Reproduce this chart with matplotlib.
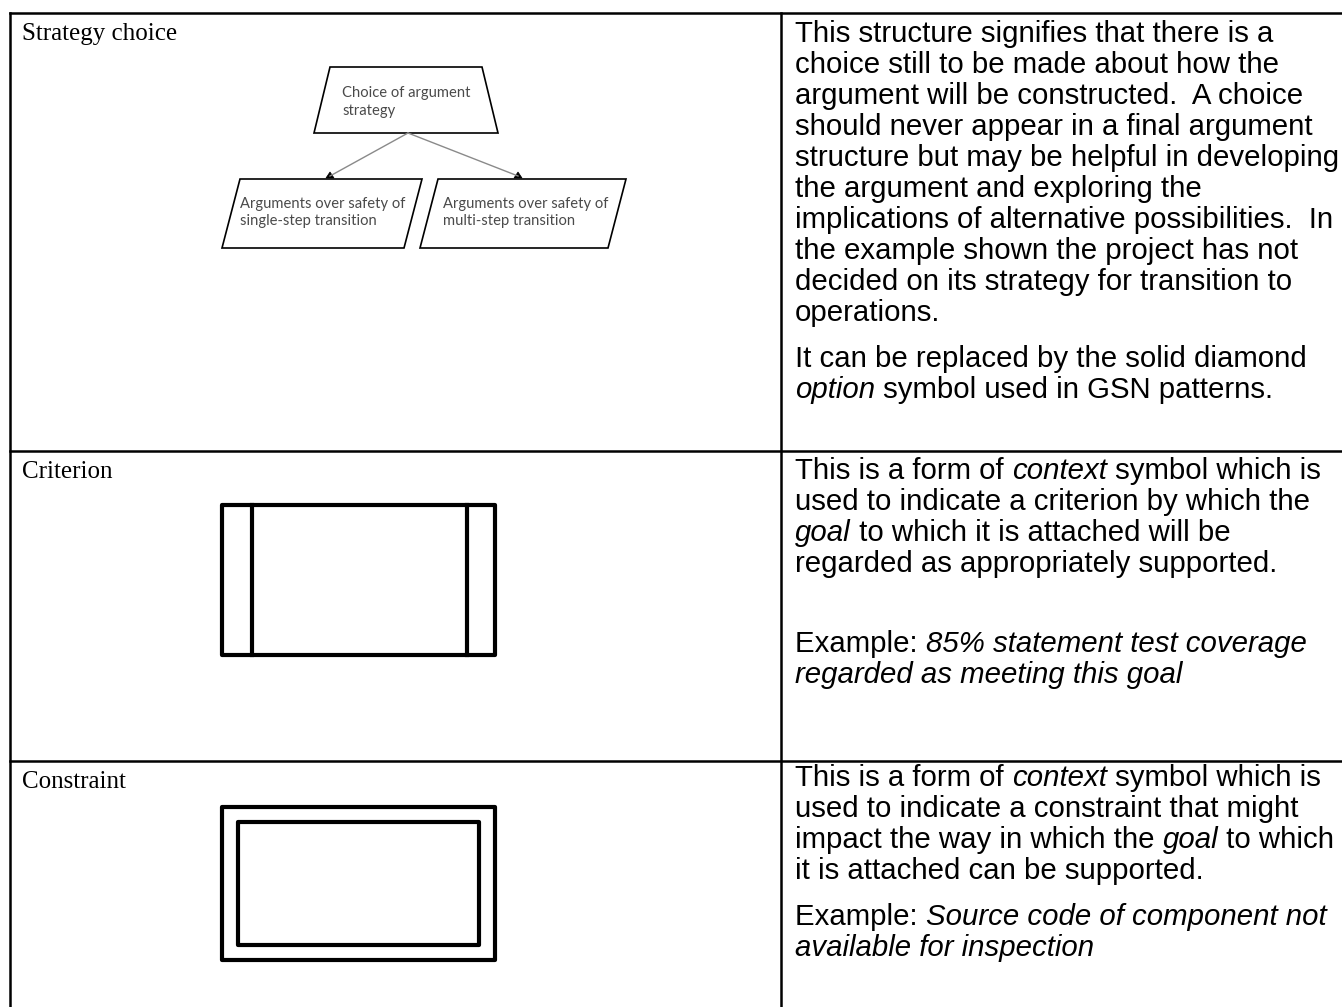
import matplotlib
matplotlib.use("Agg")
import matplotlib.pyplot as plt
from matplotlib.patches import Polygon, Rectangle

W, H = 1342, 1007

# table layout (pixels)
col_x = [10, 781]
row_y = [13, 451, 761]

row_labels = ["Strategy choice", "Criterion", "Constraint"]

# description text: each row is a list of paragraphs, each paragraph a list
# of lines, each line a list of (text, italic) runs
desc_rows = [
    [
        [
            [("This structure signifies that there is a", 0)],
            [("choice still to be made about how the", 0)],
            [("argument will be constructed.  A choice", 0)],
            [("should never appear in a final argument", 0)],
            [("structure but may be helpful in developing", 0)],
            [("the argument and exploring the", 0)],
            [("implications of alternative possibilities.  In", 0)],
            [("the example shown the project has not", 0)],
            [("decided on its strategy for transition to", 0)],
            [("operations.", 0)],
        ],
        [
            [("It can be replaced by the solid diamond", 0)],
            [("option", 1), (" symbol used in GSN patterns.", 0)],
        ],
    ],
    [
        [
            [("This is a form of ", 0), ("context", 1), (" symbol which is", 0)],
            [("used to indicate a criterion by which the", 0)],
            [("goal", 1), (" to which it is attached will be", 0)],
            [("regarded as appropriately supported.", 0)],
        ],
        [
            [("Example: ", 0), ("85% statement test coverage", 1)],
            [("regarded as meeting this goal", 1)],
        ],
    ],
    [
        [
            [("This is a form of ", 0), ("context", 1), (" symbol which is", 0)],
            [("used to indicate a constraint that might", 0)],
            [("impact the way in which the ", 0), ("goal", 1), (" to which", 0)],
            [("it is attached can be supported.", 0)],
        ],
        [
            [("Example: ", 0), ("Source code of component not", 1)],
            [("available for inspection", 1)],
        ],
    ],
]
desc_base = [42, 479, 786]   # first baseline in each row
para_gap = [15, 49, 15]      # extra space between paragraphs
line_step = 31

strategy_top = ["Choice of argument", "strategy"]
strategy_kids = [["Arguments over safety of", "single-step transition"],
                 ["Arguments over safety of", "multi-step transition"]]

fig = plt.figure(figsize=(W / 100, H / 100), dpi=100)
ax = fig.add_axes([0, 0, 1, 1])
ax.set_xlim(0, W)
ax.set_ylim(H, 0)
ax.axis("off")
renderer = fig.canvas.get_renderer()

# table grid
lw = 1.8
for y in row_y:
    ax.plot([col_x[0], W], [y, y], color="black", lw=lw)
for x in col_x:
    ax.plot([x, x], [row_y[0], H], color="black", lw=lw)

# left column labels
for y, lab in zip(row_y, row_labels):
    ax.text(22, y + 27, lab, family="Liberation Serif", fontsize=18,
            va="baseline", ha="left")

FS = 21.2
bar = ax.text(0, 0, "|", family="Liberation Sans", fontsize=FS)
bar_w = bar.get_window_extent(renderer).width
bar.remove()


def run_width(s, italic):
    t = ax.text(0, 0, s + "|", family="Liberation Sans", fontsize=FS,
                style="italic" if italic else "normal")
    w = t.get_window_extent(renderer).width - bar_w
    t.remove()
    return w


for r, paras in enumerate(desc_rows):
    yy = desc_base[r]
    for p, lines in enumerate(paras):
        if p > 0:
            yy += para_gap[r]
        for line in lines:
            x = 795
            for s, it in line:
                ax.text(x, yy, s, family="Liberation Sans", fontsize=FS,
                        style="italic" if it else "normal",
                        va="baseline", ha="left")
                x += run_width(s, it)
            yy += line_step

# ---- strategy choice diagram ----
grey = "#4a4a4a"
dfs = 10.6
ax.add_patch(Polygon([(330, 67), (482, 67), (498, 133), (314, 133)], closed=True,
                     fill=False, ec="black", lw=1.2))
for k, s in enumerate(strategy_top):
    ax.text(342, 97 + 18 * k, s, family="Lato", fontsize=dfs, color=grey,
            va="baseline", ha="left")

kid_boxes = [(240, 422, 222, 404), (438, 626, 420, 608)]
kid_text_x = [240, 443]
kid_tip = [330, 518]
for (tl, tr, bl, br), tx, label, tip in zip(kid_boxes, kid_text_x, strategy_kids, kid_tip):
    ax.add_patch(Polygon([(tl, 179), (tr, 179), (br, 248), (bl, 248)], closed=True,
                         fill=False, ec="black", lw=1.2))
    for k, s in enumerate(label):
        ax.text(tx, 208 + 17 * k, s, family="Lato", fontsize=dfs, color=grey,
                va="baseline", ha="left")
    ax.plot([408, tip], [133, 176], color="#8a8a8a", lw=1.0)
    ax.add_patch(Polygon([(tip - 4, 178), (tip + 4, 178), (tip, 172)], closed=True,
                         fc="black", ec="black", lw=0.5))

# ---- criterion symbol ----
ax.add_patch(Rectangle((222, 505), 273, 150, fill=False, ec="black", lw=3,
                       joinstyle="round"))
for x in [252, 467]:
    ax.plot([x, x], [505, 655], color="black", lw=3)

# ---- constraint symbol ----
ax.add_patch(Rectangle((222, 807), 273, 153, fill=False, ec="black", lw=3,
                       joinstyle="round"))
ax.add_patch(Rectangle((238, 822), 241, 123, fill=False, ec="black", lw=3,
                       joinstyle="round"))

fig.savefig("out.png", dpi=100)
